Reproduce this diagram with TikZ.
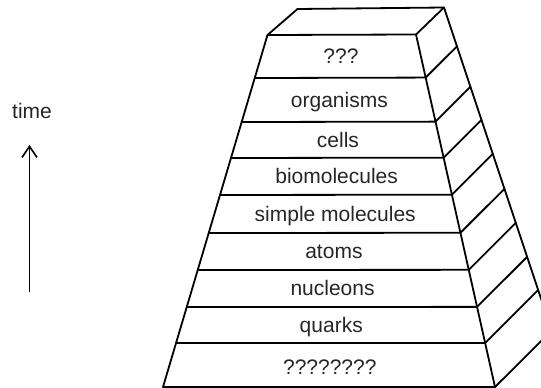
\documentclass[tikz,border=0pt]{standalone}
\usepackage{fontspec}
\setmainfont{Liberation Sans}
\usetikzlibrary{calc,arrows.meta}
\begin{document}
\begin{tikzpicture}[x=1pt,y=-1pt,
  edge/.style={line width=1.8pt, line join=round, line cap=round},
  lbl/.style={font=\fontsize{21}{25}\selectfont, text=black!85, text height=15pt, text depth=0pt, inner sep=0pt}]
\useasboundingbox (0,0) rectangle (541,388);
\clip (0,0) rectangle (541,388);
% frustum corners
\coordinate (TL) at (267.5,35);
\coordinate (BL) at (163,387);
\coordinate (TR) at (416,34.5);
\coordinate (BR) at (495,387);
\coordinate (KL) at (297.5,9);
\coordinate (KR) at (444,7.5);
\coordinate (KB) at (577.3,407.5);
% layer boundaries
\foreach \i/\t in {0/0,1/0.1222,2/0.2472,3/0.3494,4/0.4545,5/0.5625,6/0.6676,7/0.7727,8/0.875,9/1}{
  \coordinate (L\i) at ($(TL)!\t!(BL)$);
  \coordinate (R\i) at ($(TR)!\t!(BR)$);
  \coordinate (M\i) at ($(L\i)!0.5!(R\i)$);
  \coordinate (S\i) at ($(R\i)+(100,-100)$);
  \coordinate (D\i) at (intersection cs: first line={(R\i)--(S\i)}, second line={(KR)--(KB)});
}
% outline
\draw[edge] (TL) -- (KL) -- (KR) -- (TR) -- cycle;
\draw[edge] (TL) -- (BL) -- (BR) -- (TR);
\draw[edge] (KR) -- (KB);
\foreach \i in {1,...,8}{
  \draw[edge] (L\i) -- (R\i);
}
\foreach \i in {1,...,9}{
  \draw[edge] (R\i) -- (D\i);
}
% labels
\foreach \i/\j/\txt in {0/1/???,1/2/organisms,2/3/cells,3/4/biomolecules,4/5/simple molecules,5/6/atoms,6/7/nucleons,7/8/quarks}{
  \node[lbl] (lab\i) at ($(M\i)!0.5!(M\j)$) {\txt};
}
\node[lbl] (lab8) at ($(M8)!0.5!(M9)+(0,2)$) {????????};
% time arrow
\node[lbl] (time) at (32,110.5) {time};
\coordinate (ab) at (29.5,292);
\coordinate (at) at (29.5,145);
\draw[line width=1.6pt, -{Straight Barb[length=11pt,width=15pt]}] (ab) -- (at);
\end{tikzpicture}
\end{document}
